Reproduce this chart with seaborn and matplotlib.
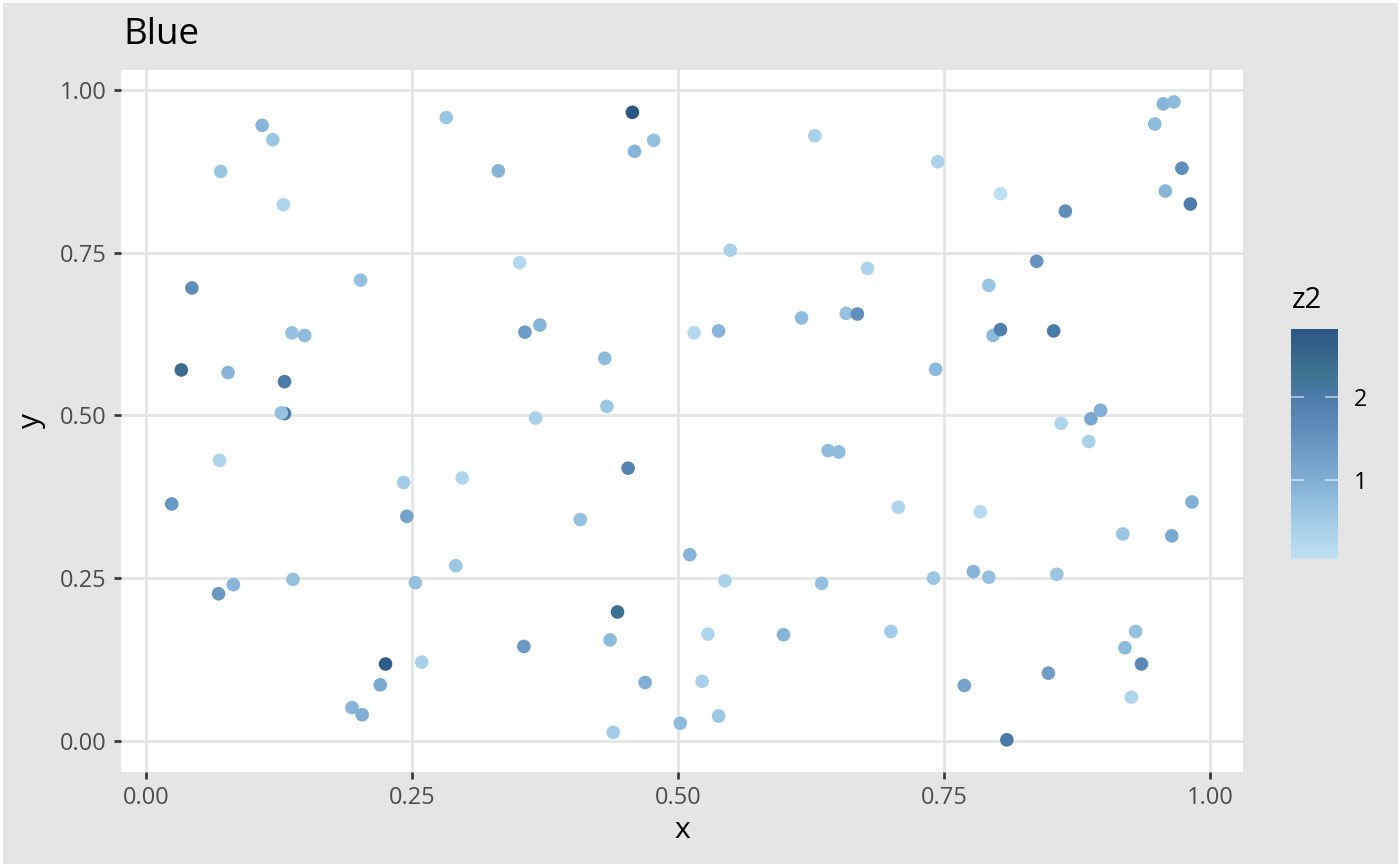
import numpy as np
import pandas as pd
import matplotlib
matplotlib.use("Agg")
import matplotlib.pyplot as plt
from matplotlib.colors import LinearSegmentedColormap, Normalize
from matplotlib.cm import ScalarMappable
import seaborn as sns

# ---- data ----
x = [0.109, 0.119, 0.070, 0.129, 0.282, 0.457, 0.477, 0.459, 0.331, 0.043,
     0.2015, 0.137, 0.149, 0.033, 0.077, 0.130, 0.130, 0.127, 0.351, 0.370,
     0.356, 0.431, 0.433, 0.366,
     0.956, 0.966, 0.948, 0.6285, 0.744, 0.9735, 0.803, 0.958, 0.9815, 0.864,
     0.549, 0.678, 0.837, 0.792, 0.616, 0.658, 0.6685, 0.515, 0.538, 0.796,
     0.803, 0.853, 0.742, 0.897,
     0.860, 0.888, 0.886, 0.641, 0.651, 0.707, 0.784, 0.983, 0.918, 0.964,
     0.511, 0.544, 0.635, 0.740, 0.7775, 0.792, 0.856, 0.528, 0.599, 0.700,
     0.5225, 0.538, 0.502, 0.930, 0.920, 0.9355, 0.848, 0.769, 0.926, 0.809,
     0.069, 0.024, 0.242, 0.297, 0.245, 0.453, 0.408, 0.291, 0.068, 0.082,
     0.138, 0.253, 0.443, 0.436, 0.355, 0.225, 0.259, 0.220, 0.1935, 0.203,
     0.469, 0.439]
y = [0.946, 0.924, 0.875, 0.824, 0.958, 0.966, 0.923, 0.906, 0.876, 0.696,
     0.708, 0.627, 0.623, 0.570, 0.566, 0.552, 0.503, 0.504, 0.735, 0.639,
     0.628, 0.588, 0.514, 0.496,
     0.979, 0.982, 0.948, 0.930, 0.890, 0.880, 0.841, 0.845, 0.825, 0.814,
     0.754, 0.726, 0.737, 0.700, 0.650, 0.657, 0.656, 0.627, 0.630, 0.623,
     0.632, 0.630, 0.571, 0.508,
     0.488, 0.495, 0.460, 0.446, 0.444, 0.359, 0.352, 0.367, 0.318, 0.315,
     0.286, 0.246, 0.242, 0.250, 0.260, 0.2515, 0.256, 0.164, 0.163, 0.168,
     0.0915, 0.038, 0.027, 0.168, 0.143, 0.118, 0.104, 0.085, 0.067, 0.0015,
     0.431, 0.364, 0.397, 0.404, 0.345, 0.419, 0.340, 0.269, 0.226, 0.240,
     0.248, 0.243, 0.198, 0.155, 0.145, 0.118, 0.121, 0.086, 0.051, 0.040,
     0.0895, 0.013]
z2 = [0.9, 0.6, 0.6, 0.3, 0.6, 2.81, 0.7, 0.9, 0.9, 1.6,
      0.7, 0.7, 0.8, 2.4, 0.9, 2.0, 2.0, 0.7, 0.25, 0.9,
      1.3, 0.8, 0.6, 0.4,
      0.9, 0.8, 0.8, 0.4, 0.35, 1.6, 0.048, 0.9, 2.0, 1.6,
      0.4, 0.35, 1.5, 0.6, 0.8, 0.7, 1.6, 0.25, 0.9, 0.8,
      1.9, 2.0, 0.8, 1.0,
      0.3, 1.1, 0.4, 0.8, 0.8, 0.3, 0.2, 1.0, 0.6, 1.1,
      0.9, 0.4, 0.7, 0.6, 0.9, 0.7, 0.6, 0.3, 0.9, 0.5,
      0.4, 0.6, 0.8, 0.7, 0.8, 1.7, 1.3, 1.2, 0.3, 2.0,
      0.3, 1.4, 0.5, 0.3, 1.2, 1.8, 0.7, 0.6, 1.4, 0.9,
      0.7, 0.7, 2.3, 0.8, 1.4, 2.7, 0.4, 1.1, 0.9, 1.0,
      1.0, 0.5]
title = "Blue"
xticks = [0.00, 0.25, 0.50, 0.75, 1.00]
yticks = [0.00, 0.25, 0.50, 0.75, 1.00]
cbar_ticks = [1, 2]

df = pd.DataFrame({"x": x, "y": y, "z2": z2})

# ---- colour scale ----
zmin, zmax = min(z2), max(z2)
stops_z = [zmin, 0.5, 1.0, 1.5, 2.0, 2.25, 2.5, zmax]
stops_c = ["#BEE0F3", "#A2CCE7", "#80AED4", "#6592BF", "#4C7BAA", "#3F7491", "#37668C", "#2C5886"]
pos = [(v - zmin) / (zmax - zmin) for v in stops_z]
cmap = LinearSegmentedColormap.from_list("blue", list(zip(pos, stops_c)))
norm = Normalize(vmin=zmin, vmax=zmax)

# ---- figure ----
W, H = 1400, 866
fig = plt.figure(figsize=(W / 100, H / 100), dpi=100)
fig.patch.set_facecolor("#E5E5E5")
fig.patch.set_edgecolor("white")
fig.patch.set_linewidth(2.5)
FONT = ["Open Sans", "DejaVu Sans"]
plt.rcParams["font.family"] = FONT

L, R, T, B = 120.7, 1243, 70, 771.7
ax = fig.add_axes([L / W, 1 - B / H, (R - L) / W, (B - T) / H])
ax.set_facecolor("white")
ax.set_axisbelow(True)

sns.scatterplot(data=df, x="x", y="y", hue="z2", palette=cmap, hue_norm=norm,
                s=96, linewidth=0, legend=False, ax=ax, zorder=3)

xr = max(x) - min(x)
yr = max(y) - min(y)
ax.set_xlim(min(x) - 0.05 * xr, max(x) + 0.05 * xr)
ax.set_ylim(min(y) - 0.05 * yr, max(y) + 0.05 * yr)
ax.set_xticks(xticks)
ax.set_yticks(yticks)
ax.set_xticklabels([f"{v:.2f}" for v in xticks])
ax.set_yticklabels([f"{v:.2f}" for v in yticks])
ax.grid(True, color="#E5E5E5", linewidth=2.0)
for s in ax.spines.values():
    s.set_visible(False)
ax.tick_params(axis="both", length=5.3, width=1.9, color="#333333",
               labelsize=17, labelcolor="#4D4D4D", pad=5)
ax.set_xlabel("")
ax.set_ylabel("")

fig.text(((L + R) / 2) / W, 1 - 838 / H, "x", ha="center", va="baseline",
         fontsize=21.6, color="black")
fig.text(39.5 / W, 1 - ((T + B) / 2) / H, "y", rotation=90, rotation_mode="anchor",
         ha="center", va="baseline", fontsize=21.6, color="black")
fig.text(123.3 / W, 1 - 43.5 / H, title, ha="left", va="baseline",
         fontsize=26.5, color="black")

# ---- colourbar ----
cl, cr, ct, cbm = 1291.3, 1337.7, 329.3, 559.3
cax = fig.add_axes([cl / W, 1 - cbm / H, (cr - cl) / W, (cbm - ct) / H])
cb = fig.colorbar(ScalarMappable(norm=norm, cmap=cmap), cax=cax)
cb.outline.set_visible(False)
cb.set_ticks(cbar_ticks)
cb.set_ticklabels([str(t) for t in cbar_ticks])
cax.minorticks_off()
cax.tick_params(axis="y", direction="in", left=True, right=True, length=9.5,
                width=1.3, color=(1, 1, 1, 0.55), labelsize=16.8,
                labelcolor="black", pad=11.5)
fig.text(1291.7 / W, 1 - 308.5 / H, "z2", ha="left", va="baseline",
         fontsize=21, color="black")

fig.savefig("out.png", dpi=100)
